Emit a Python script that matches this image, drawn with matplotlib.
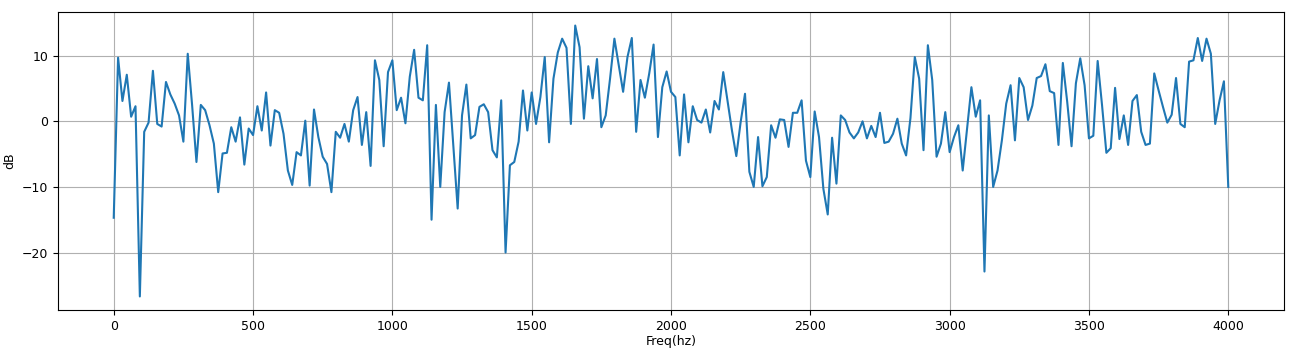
import numpy as np
import matplotlib
matplotlib.use("Agg")
import matplotlib.pyplot as plt

freq_start = 0
freq_stop = 4000
n_points = 257

db_values = [
    -14.7, 9.7, 3.1, 7.1, 0.7, 2.3, -26.7, -1.6, -0.2, 7.7,
    -0.4, -0.8, 6.0, 4.1, 2.7, 0.9, -3.1, 10.3, 2.5, -6.2,
    2.5, 1.7, -0.6, -3.4, -10.8, -4.9, -4.8, -0.9, -3.1, 0.6,
    -6.6, -1.1, -2.1, 2.3, -1.4, 4.4, -3.7, 1.7, 1.3, -1.9,
    -7.5, -9.7, -4.7, -5.2, 0.1, -9.8, 1.8, -2.4, -5.4, -6.5,
    -10.8, -1.6, -2.5, -0.4, -3.1, 1.7, 3.7, -3.6, 1.4, -6.8,
    9.3, 6.3, -3.8, 7.5, 9.3, 1.7, 3.6, -0.3, 6.8, 10.9,
    3.6, 3.2, 11.6, -15.0, 2.5, -10.0, 1.4, 5.9, -3.8, -13.3,
    0.9, 5.6, -2.6, -2.1, 2.2, 2.6, 1.4, -4.4, -5.5, 3.2,
    -20.0, -6.7, -6.2, -3.1, 4.7, -1.4, 4.4, -0.4, 3.7, 9.8,
    -3.2, 6.5, 10.5, 12.6, 11.2, -0.4, 14.6, 11.3, 0.4, 8.4,
    3.5, 9.5, -0.9, 0.9, 6.5, 12.6, 8.5, 4.5, 9.8, 12.7,
    -1.6, 6.3, 3.6, 7.3, 11.7, -2.4, 5.2, 7.6, 4.5, 3.7,
    -5.2, 4.1, -3.2, 2.3, 0.2, -0.2, 1.8, -1.7, 3.1, 1.8,
    7.5, 3.0, -1.4, -5.3, -0.1, 4.2, -7.7, -10.0, -2.4, -9.9,
    -8.5, -0.6, -2.5, 0.3, 0.2, -3.9, 1.3, 1.3, 3.2, -6.0,
    -8.5, 1.5, -2.4, -10.3, -14.2, -2.5, -9.5, 0.9, 0.2, -1.7,
    -2.6, -1.7, 0.0, -2.6, -0.7, -2.4, 1.3, -3.3, -3.1, -1.9,
    0.4, -3.4, -5.2, 0.5, 9.8, 6.5, -4.4, 11.6, 6.3, -5.4,
    -3.4, 1.4, -4.7, -2.4, -0.6, -7.5, -1.1, 5.2, 0.7, 3.2,
    -22.9, 0.9, -10.0, -7.5, -2.9, 2.7, 5.5, -2.9, 6.6, 5.2,
    0.2, 2.4, 6.6, 6.9, 8.7, 4.6, 4.3, -3.6, 8.9, 3.0,
    -3.8, 5.8, 9.6, 5.5, -2.6, -2.2, 9.2, 2.5, -4.8, -4.1,
    5.1, -2.7, 0.9, -3.6, 3.1, 4.0, -1.6, -3.6, -3.4, 7.3,
    4.7, 2.2, -0.2, 1.0, 6.6, -0.4, -0.9, 9.1, 9.3, 12.7,
    9.2, 12.6, 10.3, -0.4, 3.2, 6.1, -10.0,
]

x_label = "Freq(hz)"
y_label = "dB"

freqs = np.linspace(freq_start, freq_stop, n_points)

fig = plt.figure(figsize=(12.98, 3.5), dpi=100)
ax = fig.add_axes([58 / 1298, 1 - 310 / 350, (1284 - 58) / 1298, (310 - 12) / 350])
ax.plot(freqs, db_values, color="#1f77b4", linewidth=1.5)
ax.grid(True, color="#b0b0b0", linewidth=0.8)
ax.set_xlabel(x_label, fontsize=9, labelpad=2)
ax.set_ylabel(y_label, fontsize=9)
ax.tick_params(labelsize=9)
fig.savefig("out.png", dpi=100)
